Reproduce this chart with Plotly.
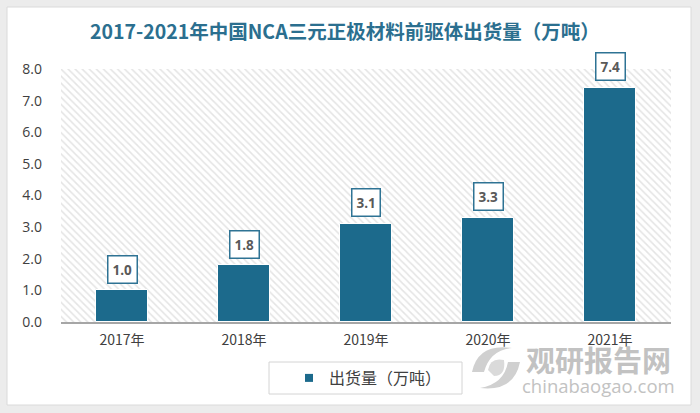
import plotly.graph_objects as go

categories = ["2017年", "2018年", "2019年", "2020年", "2021年"]
values = [1.0, 1.8, 3.1, 3.3, 7.4]
y_ticks = [0, 1, 2, 3, 4, 5, 6, 7, 8]
series_name = "出货量（万吨）"
title_text = "2017-2021年中国NCA三元正极材料前驱体出货量（万吨）"

BAR = "#1c6a8c"
L, R, T, B = 61, 29, 69, 91
W, H = 700, 413
pw, ph = W - L - R, H - T - B

def px(x):
    return (x - L) / pw

def py(y):
    return (H - B - y) / ph

xs = list(range(len(categories)))

fig = go.Figure()
# hatched background of plot area
fig.add_trace(go.Bar(
    x=[(len(categories) - 1) / 2], y=[max(y_ticks)], width=[len(categories)],
    marker=dict(color="white", line=dict(width=0),
                pattern=dict(shape="\\", fgcolor="#c9c9c9", bgcolor="white", size=5, solidity=0.3)),
    showlegend=False, hoverinfo="skip"))
fig.add_trace(go.Bar(
    x=xs, y=values, width=0.43, name=series_name, showlegend=False,
    marker=dict(color=BAR, line=dict(color="white", width=1)),
    hoverinfo="skip"))
# legend entry (small square marker)
fig.add_trace(go.Scatter(
    x=[None], y=[None], mode="markers", name=series_name,
    marker=dict(symbol="square", size=8, color=BAR), hoverinfo="skip"))

for x, v in zip(xs, values):
    fig.add_annotation(x=x, y=v, xref="x", yref="y", text=f"<b>{v:.1f}</b>",
                       showarrow=False, yshift=21, xanchor="center", yanchor="middle",
                       font=dict(family="Open Sans, Noto Sans", size=13.5, color="#595959"),
                       bgcolor="white", bordercolor="#2e7394", borderwidth=1.5, borderpad=4)

# title
fig.add_annotation(x=px(345), y=py(31), xref="paper", yref="paper", text=f"<b>{title_text}</b>",
                   showarrow=False, xanchor="center", yanchor="middle",
                   font=dict(family="Noto Sans CJK SC", size=19.5, color="#2b6f8f"))

# watermark
fig.add_annotation(x=px(598), y=py(359), xref="paper", yref="paper", text="<b>观研报告网</b>",
                   showarrow=False, xanchor="center", yanchor="middle",
                   font=dict(family="Noto Sans CJK SC", size=29, color="#c2c2c2"))
fig.add_annotation(x=px(598), y=py(386), xref="paper", yref="paper", text="chinabaogao.com",
                   showarrow=False, xanchor="center", yanchor="middle",
                   font=dict(family="Open Sans", size=18.5, color="#c2c2c2"))

# watermark logo (rough swirl)
fig.add_shape(type="path", xref="paper", yref="paper", layer="above",
              path=f"M {px(472)},{py(372)} Q {px(478)},{py(343)} {px(512)},{py(348)} "
                   f"Q {px(490)},{py(350)} {px(484)},{py(372)} Z",
              fillcolor="#d0d0d0", line=dict(width=0))
fig.add_shape(type="path", xref="paper", yref="paper", layer="above",
              path=f"M {px(520)},{py(362)} Q {px(514)},{py(392)} {px(480)},{py(388)} "
                   f"Q {px(504)},{py(384)} {px(508)},{py(362)} Z",
              fillcolor="#d0d0d0", line=dict(width=0))
fig.add_shape(type="path", xref="paper", yref="paper", layer="above",
              path=f"M {px(488)},{py(370)} Q {px(490)},{py(357)} {px(504)},{py(360)} "
                   f"Q {px(506)},{py(376)} {px(494)},{py(376)} Z",
              fillcolor="#dadada", line=dict(width=0))

# card
fig.add_shape(type="rect", xref="paper", yref="paper", layer="below",
              x0=px(7), x1=px(691), y0=py(405), y1=py(7),
              fillcolor="white", line=dict(color="#dadada", width=1))
# legend box
fig.add_shape(type="rect", xref="paper", yref="paper", layer="above",
              x0=px(269), x1=px(462), y0=py(394), y1=py(362),
              fillcolor="white", line=dict(color="#d4d4d4", width=1))

fig.update_layout(
    width=W, height=H,
    margin=dict(l=L, r=R, t=T, b=B),
    paper_bgcolor="#ececec", plot_bgcolor="rgba(0,0,0,0)",
    barmode="overlay", bargap=0,
    showlegend=True,
    legend=dict(orientation="h", x=px(289), xanchor="left", y=py(378), yanchor="middle",
                borderwidth=0, bgcolor="rgba(0,0,0,0)", itemwidth=30,
                font=dict(family="Noto Sans CJK SC", size=16, color="#404040")),
    xaxis=dict(range=[-0.5, len(categories) - 0.5], tickvals=xs, ticktext=categories,
               showgrid=False, zeroline=False, showline=True, linecolor="#a6a6a6", linewidth=1.5,
               ticks="", ticklabelstandoff=4,
               tickfont=dict(family="Noto Sans CJK SC", size=14, color="#404040")),
    yaxis=dict(range=[0, 8], tickvals=y_ticks, ticktext=[f"{t:.1f}" for t in y_ticks],
               showgrid=False, zeroline=False, showline=False, ticks="",
               ticklabelstandoff=18,
               tickfont=dict(family="Open Sans", size=14, color="#404040")),
)

fig.write_html("out.html", config={"displayModeBar": False},
               post_script="document.body.style.margin='0';")
